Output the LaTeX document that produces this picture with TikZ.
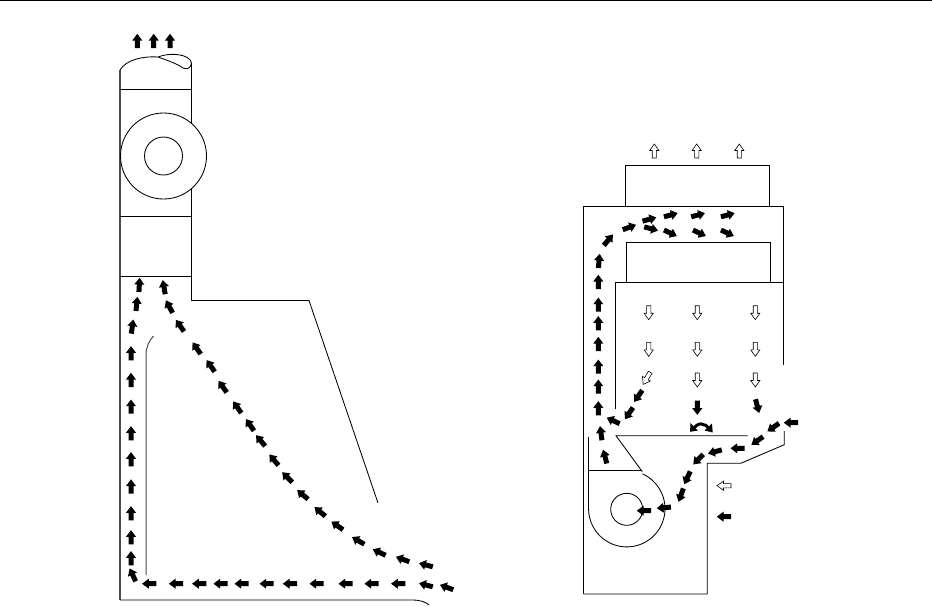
\documentclass[tikz,border=0pt]{standalone}
\tikzset{
  wall/.style={draw=black,line width=0.85pt,line join=miter},
  heavywall/.style={draw=black!70,line width=1.25pt},
  blockblack/.style={fill=black,draw=none},
  blockhollow/.style={fill=white,draw=black,line width=0.6pt}
}
\newcommand{\blk}[3]{\path[blockblack,shift={(#1,#2)},rotate=#3] (-7,-2.5)--(0.5,-2.5)--(0.5,-5)--(7.2,0)--(0.5,5)--(0.5,2.5)--(-7,2.5)--cycle;}
\newcommand{\hol}[3]{\path[blockhollow,shift={(#1,#2)},rotate=#3] (-7,-2.1)--(0.5,-2.1)--(0.5,-4.6)--(7,0)--(0.5,4.6)--(0.5,2.1)--(-7,2.1)--cycle;}
\begin{document}
\begin{tikzpicture}[x=1pt,y=-1pt]
\useasboundingbox (0,0) rectangle (932,606);
\fill[white] (0,0) rectangle (932,606);
\draw[wall] (0,0.5)--(932,0.5);
% --- left unit ---
\draw[heavywall] (120,70)--(120,600);
\draw[wall] (120,600)--(412,600) .. controls (420,600) and (426,602) .. (429,605);
\draw[wall] (191.5,63)--(191.5,300.5)--(309,300.5)--(378,503);
\draw[wall] (120,70) .. controls (126,60) and (142,56) .. (158,57)
  .. controls (166,60) and (176,63) .. (183,68) .. controls (187,70) and (191,68) .. (191.5,63)
  .. controls (190,54) and (170,52) .. (158,57);
\draw[wall] (120,89)--(191.5,89);
\draw[wall] (120,216)--(191.5,216);
\draw[wall] (120,276.5)--(191.5,276.5);
\draw[wall,fill=white] (163.5,156) circle[radius=43pt];
\draw[wall] (163.5,156) circle[radius=19pt];
\draw[heavywall,line width=1pt] (146,575)--(146,355) .. controls (146,347) and (149,341) .. (153.5,336);
\foreach \px/\py/\ang in {137.3/41/90,153.7/41/90,170/41/90,
  139.3/285/87,136.7/304/84,132.3/326.7/82,131/353.3/90,131/380/90,131/406.7/90,131/433.3/90,131/459.3/90,131/486.5/90,131/513.3/90,131/537.3/90,131/558.3/90,132.7/575/115,
  149.3/583.7/180,176/583.7/180,199.3/583.7/180,220.7/583.7/180,241.7/583.7/180,266.7/583.7/180,290/583.7/180,316.7/583.7/180,345.7/583.7/180,371.7/583.7/180,398.3/583.7/180,426/585/165,446.7/587.3/160,
  164/287.3/100,169.3/306.7/118,180/325.7/125,196.7/348.3/125,210.7/366/125,222.7/386.7/125,237.3/407.3/125,250/425/125,260.7/440.7/130,274/460/130,287.3/477.3/135,302.7/494.7/140,320/511.7/140,337.3/525.7/145,358.3/540.7/150,379.3/552.3/155,402.7/559.3/160,426/565/165}
  {\blk{\px}{\py}{\ang}}
% --- right unit ---
\draw[wall] (625.3,206.7)--(625.3,165.3)--(769.3,165.3)--(769.3,206.7);
\draw[wall] (583.7,594)--(583.7,206.7)--(783.3,206.7)--(783.3,365);
\draw[wall] (583.7,594)--(707.3,594)--(707.3,463.3)--(740.7,463.3)--(784.3,444.7)--(784.3,431);
\draw[wall] (626.3,282.3)--(626.3,242.3)--(770,242.3)--(770,282.3);
\draw[wall] (615.3,409.3)--(615.3,282.3)--(783.3,282.3);
\draw[wall] (747.7,435.7)--(616,435.7)--(642.3,471.7);
\draw[wall] (588.7,436.7)--(588.7,508.7);
\draw[wall] (588.7,470)--(642,470);
\draw[wall] plot[domain=-66:180,samples=70] ({626.8+38.2*cos(\x)},{508.7+38.2*sin(\x)});
\draw[wall] (626.7,509.3) circle[radius=16pt];
\foreach \px/\py/\ang in {654.3/151/90,696.7/151/90,739.3/151/90,
  648.7/312.7/270,697.3/312.7/270,755.3/312.7/270,648.7/349.3/270,697.3/349.3/270,755.3/349.3/270,
  646.7/378.3/240,697.3/380/270,755.3/380/270,724/485.7/180}
  {\hol{\px}{\py}{\ang}}
\foreach \px/\py/\ang in {697.3/407.7/270,757.3/406/285,638.3/396/235,629/413.3/235,613.3/420.7/155,601/433.3/98,605/456.7/105,598.3/408.3/90,598.3/386.7/90,
  791/422.7/180,773.3/427.3/215,757.3/440.7/215,737.7/448.3/180,715/451.7/195,698.3/459.3/225,687.3/477.7/245,681/495/250,664/507.7/185,644/510.7/180,724/516.7/180,
  599/261/85,598.3/282/90,598.3/304.7/90,598.3/323.3/90,598.3/344/90,598.3/366.7/90,
  608.3/240/50,629.3/227.3/20,649.3/219.3/15,670.7/215/15,698/215/15,727.7/215/15,651/228.7/-15,670.3/233/-25,699.3/233/-25,727.3/233/-25}
  {\blk{\px}{\py}{\ang}}
% split arrows on the plate
\draw[line width=3pt] (703.5,424.5) .. controls (700,423) and (697,424.5) .. (694.5,427.5);
\fill (690,431.8) -- (690.5,423) -- (697.8,430.5) -- cycle;
\draw[line width=3pt] (702.5,424.5) .. controls (705,424.5) and (707,425.5) .. (708.5,428);
\fill (712.7,432.5) -- (704.5,430.5) -- (712,423.5) -- cycle;
\end{tikzpicture}
\end{document}
